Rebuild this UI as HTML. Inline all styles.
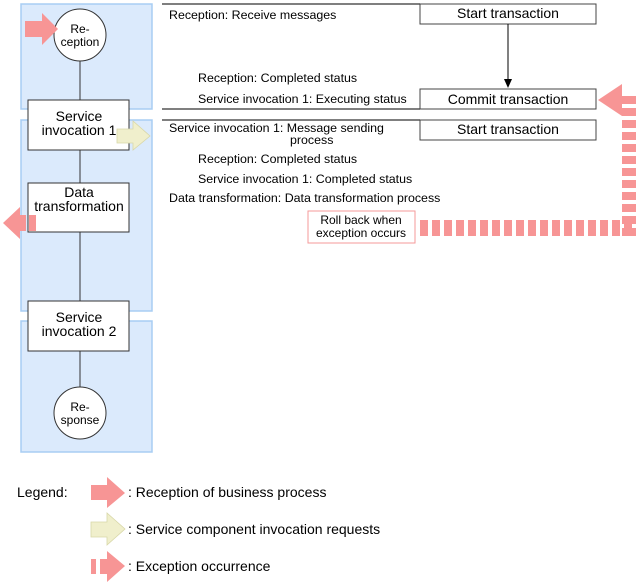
<!DOCTYPE html>
<html><head><style>
body{margin:0;background:#fff;}
svg{display:block;font-family:"Liberation Sans",Arial,sans-serif;}
</style></head><body>
<svg width="639" height="587" viewBox="0 0 639 587" xmlns="http://www.w3.org/2000/svg">
<g fill="#dbeafc" stroke="#a8cdf3" stroke-width="1.5">
<rect x="21" y="4" width="131" height="105"/>
<rect x="21" y="120" width="131" height="191"/>
<rect x="21" y="321" width="131" height="131"/>
</g>
<line x1="80" y1="60" x2="80" y2="390" stroke="#333" stroke-width="1"/>
<g fill="#fff" stroke="#333" stroke-width="1">
<circle cx="80" cy="35" r="26"/>
<rect x="28" y="100" width="101" height="50"/>
<rect x="28" y="183" width="101" height="49"/>
<rect x="28" y="301" width="101" height="50"/>
<circle cx="80" cy="413" r="26"/>
</g>
<g font-size="12" fill="#000" text-anchor="middle">
<text x="80" y="33">Re-</text><text x="80" y="46">ception</text>
<text x="80" y="411">Re-</text><text x="80" y="424">sponse</text>
</g>
<g font-size="14" fill="#000" text-anchor="middle">
<text x="79" y="121">Service</text><text x="79" y="135">invocation 1</text>
<text x="79" y="197">Data</text><text x="79" y="211">transformation</text>
<text x="79" y="322">Service</text><text x="79" y="336">invocation 2</text>
</g>
<polygon points="25,21 42,21 42,13 58,29 42,45 42,37 25,37" fill="#f79595"/>
<polygon points="117,129 133,129 133,121 150,136 133,150 133,143 117,143" fill="#f0efcc" stroke="#d8d7a8" stroke-width="0.8"/>
<polygon points="20,207 3,223 20,239" fill="#f79595"/>
<rect x="20" y="215" width="6" height="16" fill="#f79595"/>
<rect x="29" y="215" width="7" height="16" fill="#f79595"/>
<g stroke="#555" stroke-width="1.5">
<line x1="162" y1="4" x2="420" y2="4"/>
<line x1="162" y1="109" x2="420" y2="109"/>
<line x1="162" y1="120" x2="420" y2="120"/>
</g>
<g fill="#fff" stroke="#444" stroke-width="1">
<rect x="420" y="4" width="176" height="20"/>
<rect x="420" y="89" width="176" height="20"/>
<rect x="420" y="120" width="176" height="20"/>
</g>
<line x1="508" y1="24" x2="508" y2="80" stroke="#000"/>
<polygon points="504,79 512,79 508,88" fill="#000"/>
<g font-size="14" fill="#000" text-anchor="middle">
<text x="508" y="18">Start transaction</text>
<text x="508" y="104">Commit transaction</text>
<text x="508" y="134">Start transaction</text>
</g>
<g font-size="12.4" fill="#000">
<text x="169" y="19">Reception: Receive messages</text>
<text x="198" y="82">Reception: Completed status</text>
<text x="198" y="103">Service invocation 1: Executing status</text>
<text x="169" y="132">Service invocation 1: Message sending</text>
<text x="290" y="144">process</text>
<text x="198" y="163">Reception: Completed status</text>
<text x="198" y="183">Service invocation 1: Completed status</text>
<text x="169" y="202">Data transformation: Data transformation process</text>
</g>
<rect x="308" y="211" width="107" height="32" fill="#fff" stroke="#f49a9a" stroke-width="1"/>
<g font-size="12" fill="#000" text-anchor="middle">
<text x="361" y="224">Roll back when</text>
<text x="361" y="237">exception occurs</text>
</g>
<line x1="420" y1="228" x2="636" y2="228" stroke="#f79595" stroke-width="16" stroke-dasharray="8,4"/>
<line x1="629" y1="236" x2="629" y2="95" stroke="#f79595" stroke-width="14" stroke-dasharray="8,4"/>
<polygon points="622,84 598,100 622,116" fill="#f79595"/>
<text x="17" y="497" font-size="14" fill="#000">Legend:</text>
<polygon points="91,485 107,485 107,477 125,493 107,508 107,500 91,500" fill="#f79595"/>
<polygon points="91,522 107,522 107,513 125,529 107,545 107,537 91,537" fill="#f0efcc" stroke="#d8d7a8" stroke-width="0.8"/>
<rect x="91" y="559" width="5" height="15" fill="#f79595"/>
<rect x="100" y="559" width="7" height="15" fill="#f79595"/>
<polygon points="107,551 125,566 107,582" fill="#f79595"/>
<g font-size="14" fill="#000">
<text x="128" y="497">: Reception of business process</text>
<text x="128" y="534">: Service component invocation requests</text>
<text x="128" y="571">: Exception occurrence</text>
</g>
</svg>
</body></html>
